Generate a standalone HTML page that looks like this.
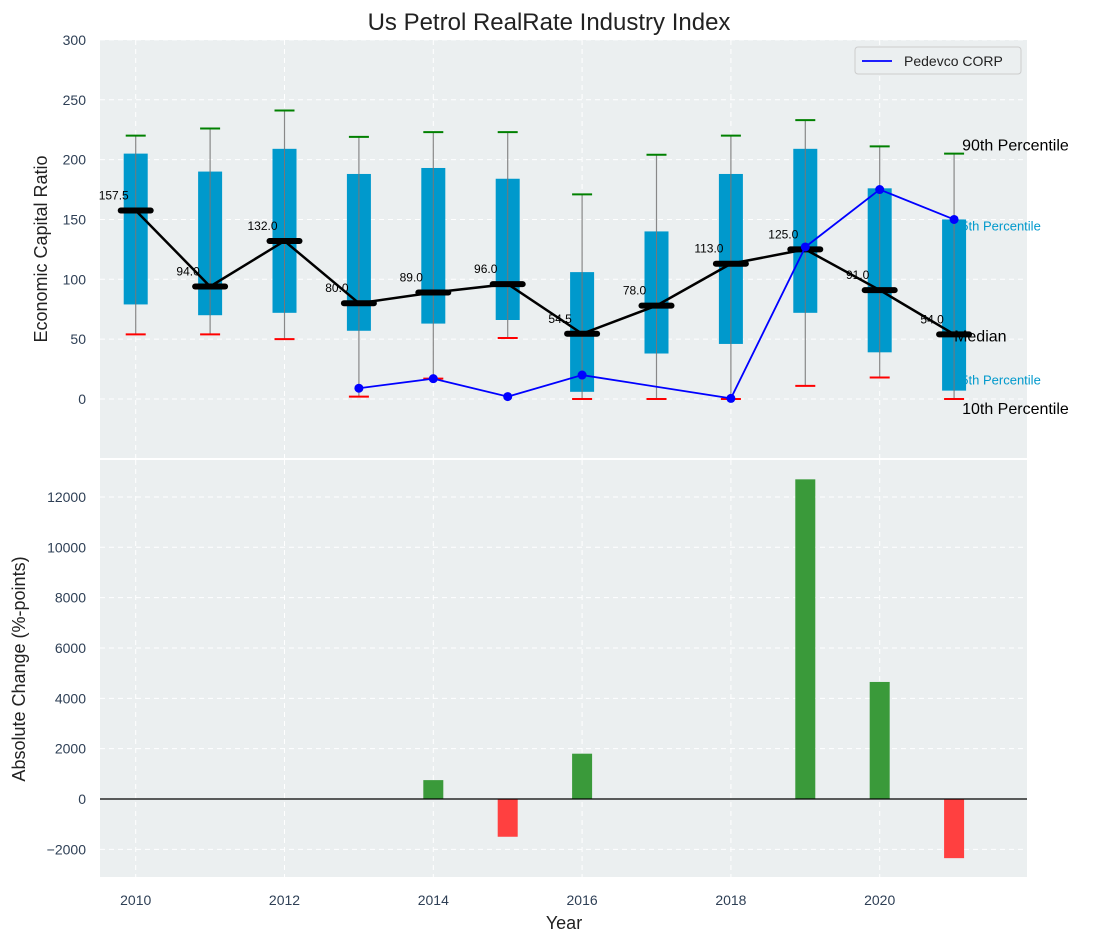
<!DOCTYPE html>
<html><head><meta charset="utf-8"><style>
body{margin:0;background:#fff;}
svg text{font-family:"Liberation Sans","DejaVu Sans",sans-serif;}
</style></head><body>
<svg id="chart" width="1098" height="942" xmlns="http://www.w3.org/2000/svg"></svg>
<script>
const years=[2010,2011,2012,2013,2014,2015,2016,2017,2018,2019,2020,2021];
const p25=[79,70,72,57,63,66,6,38,46,72,39,7];
const p75=[205,190,209,188,193,184,106,140,188,209,176,150];
const medians=[157.5,94.0,132.0,80.0,89.0,96.0,54.5,78.0,113.0,125.0,91.0,54.0];
const p10=[54,54,50,2,17,51,0,0,0,11,18,0];
const p90=[220,226,241,219,223,223,171,204,220,233,211,205];
const pedevco=[null,null,null,9,17,2,20,null,0.5,127,175,150];
const changeYears=[2014,2015,2016,2019,2020,2021];
const changes=[750,-1500,1800,12700,4650,-2350];
const topTicks=[0,50,100,150,200,250,300];
const botTicks=[-2000,0,2000,4000,6000,8000,10000,12000];
const xTicks=[2010,2012,2014,2016,2018,2020];

const NS="http://www.w3.org/2000/svg";
const svg=document.getElementById('chart');
function mk(tag,attrs,parent){const e=document.createElementNS(NS,tag);for(const k in attrs)e.setAttribute(k,attrs[k]);(parent||svg).appendChild(e);return e;}
const L=100,R=1027;
const x=v=>L+(v-2009.52)/(2021.98-2009.52)*(R-L);
const T1=40,B1=458;const yT=v=>399-v*1.197;
const T2=460,B2=877;const yB=v=>799-v*0.02517;

let e=mk('rect',{x:L,y:T1,width:R-L,height:B1-T1,fill:'#ebeff0'});

e=mk('rect',{x:L,y:T2,width:R-L,height:B2-T2,fill:'#ebeff0'});


xTicks.forEach(t=>{
  [[T1,B1],[T2,B2]].forEach(([a,b])=>{
    e=mk('line',{x1:x(t),x2:x(t),y1:a,y2:b,stroke:'#fff','stroke-dasharray':'5,4','stroke-width':1});
    
  });
  e=mk('text',{x:x(t),y:905,'text-anchor':'middle','font-size':14,fill:'#2e3f55'});e.textContent=t;
  
});
topTicks.forEach(t=>{
  e=mk('line',{x1:L,x2:R,y1:yT(t),y2:yT(t),stroke:'#fff','stroke-dasharray':'5,4'});
  
  e=mk('text',{x:86,y:yT(t)+5,'text-anchor':'end','font-size':14,fill:'#2e3f55'});e.textContent=t;
  
});
botTicks.forEach(t=>{
  e=mk('line',{x1:L,x2:R,y1:yB(t),y2:yB(t),stroke:'#fff','stroke-dasharray':'5,4'});
  
  e=mk('text',{x:86,y:yB(t)+5,'text-anchor':'end','font-size':14,fill:'#2e3f55'});e.textContent=t<0?'\u2212'+(-t):t;
  
});

const lastX=x(2021);
function ann(txt,dx,by,color,size,name){e=mk('text',{x:lastX+dx,y:by,'font-size':size,fill:color});e.textContent=txt;
 }
ann('90th Percentile',8,yT(p90[11])-3,'#000',16,'p90-annotation');
ann('75th Percentile',0,yT(p75[11])+11,'#0099cc',13,'p75-annotation');
ann('25th Percentile',0,yT(p25[11])-6,'#0099cc',13,'p25-annotation');
ann('10th Percentile',8,yT(p10[11])+15,'#000',16,'p10-annotation');

years.forEach((yr,i)=>{
  const cx=x(yr),hw=12;
  e=mk('line',{x1:cx,x2:cx,y1:yT(p90[i]),y2:yT(p10[i]),stroke:'#888','stroke-width':1.2});
  
  e=mk('rect',{x:cx-hw,y:yT(p75[i]),width:2*hw,height:yT(p25[i])-yT(p75[i]),fill:'#0099cc'});
  
  e=mk('line',{x1:cx,x2:cx,y1:yT(p75[i]),y2:yT(p25[i]),stroke:'#777','stroke-width':1});
  
  e=mk('line',{x1:cx-10,x2:cx+10,y1:yT(p90[i]),y2:yT(p90[i]),stroke:'green','stroke-width':2});
  
  e=mk('line',{x1:cx-10,x2:cx+10,y1:yT(p10[i]),y2:yT(p10[i]),stroke:'red','stroke-width':2});
  
});
ann('Median',0,yT(medians[11])+7,'#000',16,'median-annotation');
e=mk('polyline',{points:years.map((yr,i)=>x(yr)+','+yT(medians[i])).join(' '),fill:'none',stroke:'#000','stroke-width':2.5});

years.forEach((yr,i)=>{
  const cx=x(yr);
  e=mk('line',{x1:cx-15,x2:cx+15,y1:yT(medians[i]),y2:yT(medians[i]),stroke:'#000','stroke-width':6,'stroke-linecap':'round'});
  
  e=mk('text',{x:cx-22,y:yT(medians[i])-11,'text-anchor':'middle','font-size':12,fill:'#000'});e.textContent=medians[i].toFixed(1);
  
});
const pts=years.map((yr,i)=>pedevco[i]==null?null:[x(yr),yT(pedevco[i])]).filter(p=>p);
e=mk('polyline',{points:pts.map(p=>p.join(',')).join(' '),fill:'none',stroke:'blue','stroke-width':1.8});

pts.forEach(p=>{e=mk('circle',{cx:p[0],cy:p[1],r:4.5,fill:'blue'});
  });

changeYears.forEach((yr,i)=>{
  const v=changes[i],y0=yB(0),y1=yB(v);
  e=mk('rect',{x:x(yr)-10,y:Math.min(y0,y1),width:20,height:Math.abs(y1-y0),fill:v>=0?'#3a9a3a':'#ff4040'});
  
});
e=mk('line',{x1:L,x2:R,y1:yB(0),y2:yB(0),stroke:'#000','stroke-width':1.2});


const lg=mk('g',{});
mk('rect',{x:855,y:47,width:166,height:27,fill:'#ebeff0',stroke:'#ccc',rx:3},lg);
mk('line',{x1:862,x2:892,y1:61,y2:61,stroke:'blue','stroke-width':1.8},lg);
e=mk('text',{x:904,y:66,'font-size':14,fill:'#222'},lg);e.textContent='Pedevco CORP';


e=mk('text',{x:549,y:30,'text-anchor':'middle','font-size':24,fill:'#222'});e.textContent='Us Petrol RealRate Industry Index';

e=mk('text',{x:47,y:249,'text-anchor':'middle','font-size':18,fill:'#222',transform:'rotate(-90 47 249)'});e.textContent='Economic Capital Ratio';

e=mk('text',{x:25,y:669,'text-anchor':'middle','font-size':18,fill:'#222',transform:'rotate(-90 25 669)'});e.textContent='Absolute Change (%-points)';

e=mk('text',{x:564,y:929,'text-anchor':'middle','font-size':18,fill:'#222'});e.textContent='Year';

</script>
</body></html>
